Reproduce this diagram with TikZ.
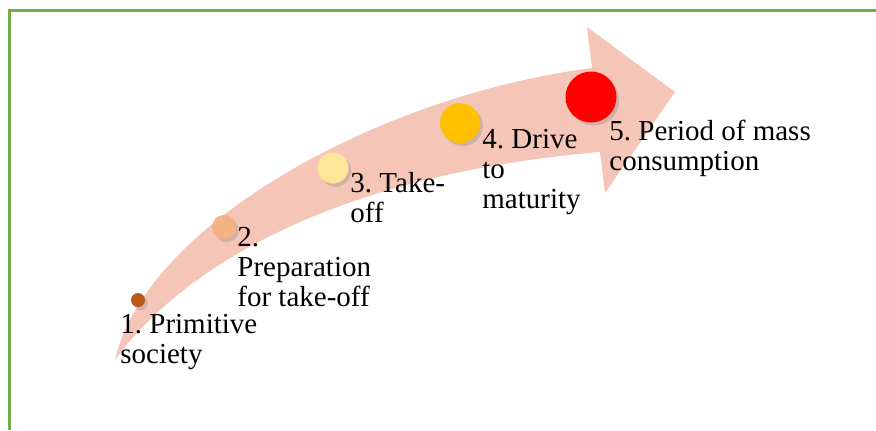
\documentclass[tikz,border=0pt]{standalone}
\usepackage{fontspec}
\setmainfont{Liberation Serif}
\usepackage{tikz}
\usetikzlibrary{positioning, shadows}
\definecolor{FrameGreen}{HTML}{70AD47}
\definecolor{ArrowPeach}{RGB}{245, 198, 184}
\definecolor{StageBrown}{HTML}{B95A1C}
\definecolor{StageApricot}{HTML}{F4B183}
\definecolor{StageCream}{HTML}{FFE699}
\definecolor{StageAmber}{HTML}{FFC000}
\definecolor{StageRed}{HTML}{FF0000}
\frenchspacing

\tikzset{
  stagedot/.style={circle, inner sep=0pt, draw=none,
    drop shadow={shadow xshift=1.4pt, shadow yshift=-1.6pt, opacity=0.3}},
  stagelabel/.style={anchor=base west, inner sep=0pt, align=left,
    font=\fontsize{14.5}{14.8}\selectfont, text=black}
}

\begin{document}
\begin{tikzpicture}[x=0.5pt, y=-0.5pt]
    \useasboundingbox (0,0) rectangle (876,430);
    % Frame (top and left edges only)
    \draw[color=FrameGreen, line width=1.5pt] (8,10) -- (876,10);
    \draw[color=FrameGreen, line width=1.5pt] (9,10) -- (9,430);

    % Curved upward arrow
    \fill[color=ArrowPeach] (115,360) .. controls (145,225) and (380,95) .. (592,68)
        -- (587,27) -- (675,92) -- (605,193) -- (600,152)
        .. controls (330,175) and (180,270) .. (115,360) -- cycle;

    % Stage 1: Primitive society (label placed by its last baseline)
    \node[stagedot, fill=StageBrown, minimum size=7pt] (s1) at (138,300) {};
    \node[stagelabel] (l1) at (120,363) {1. Primitive\\society};

    % Stage 2: Preparation
    \node[stagedot, fill=StageApricot, minimum size=12pt] (s2) at (224,227) {};
    \node[stagelabel] (l2) at (237,306) {2.\\Preparation\\for take-off};

    % Stage 3: Take-off
    \node[stagedot, fill=StageCream, minimum size=15.5pt] (s3) at (333,168) {};
    \node[stagelabel] (l3) at (350,222) {3. Take-\\off};

    % Stage 4: Drive to maturity
    \node[stagedot, fill=StageAmber, minimum size=20pt] (s4) at (460,123) {};
    \node[stagelabel] (l4) at (482,208) {4. Drive\\to\\maturity};

    % Stage 5: Mass consumption
    \node[stagedot, fill=StageRed, minimum size=25.5pt] (s5) at (591,97) {};
    \node[stagelabel] (l5) at (609,170) {5. Period of mass\\consumption};
\end{tikzpicture}
\end{document}
